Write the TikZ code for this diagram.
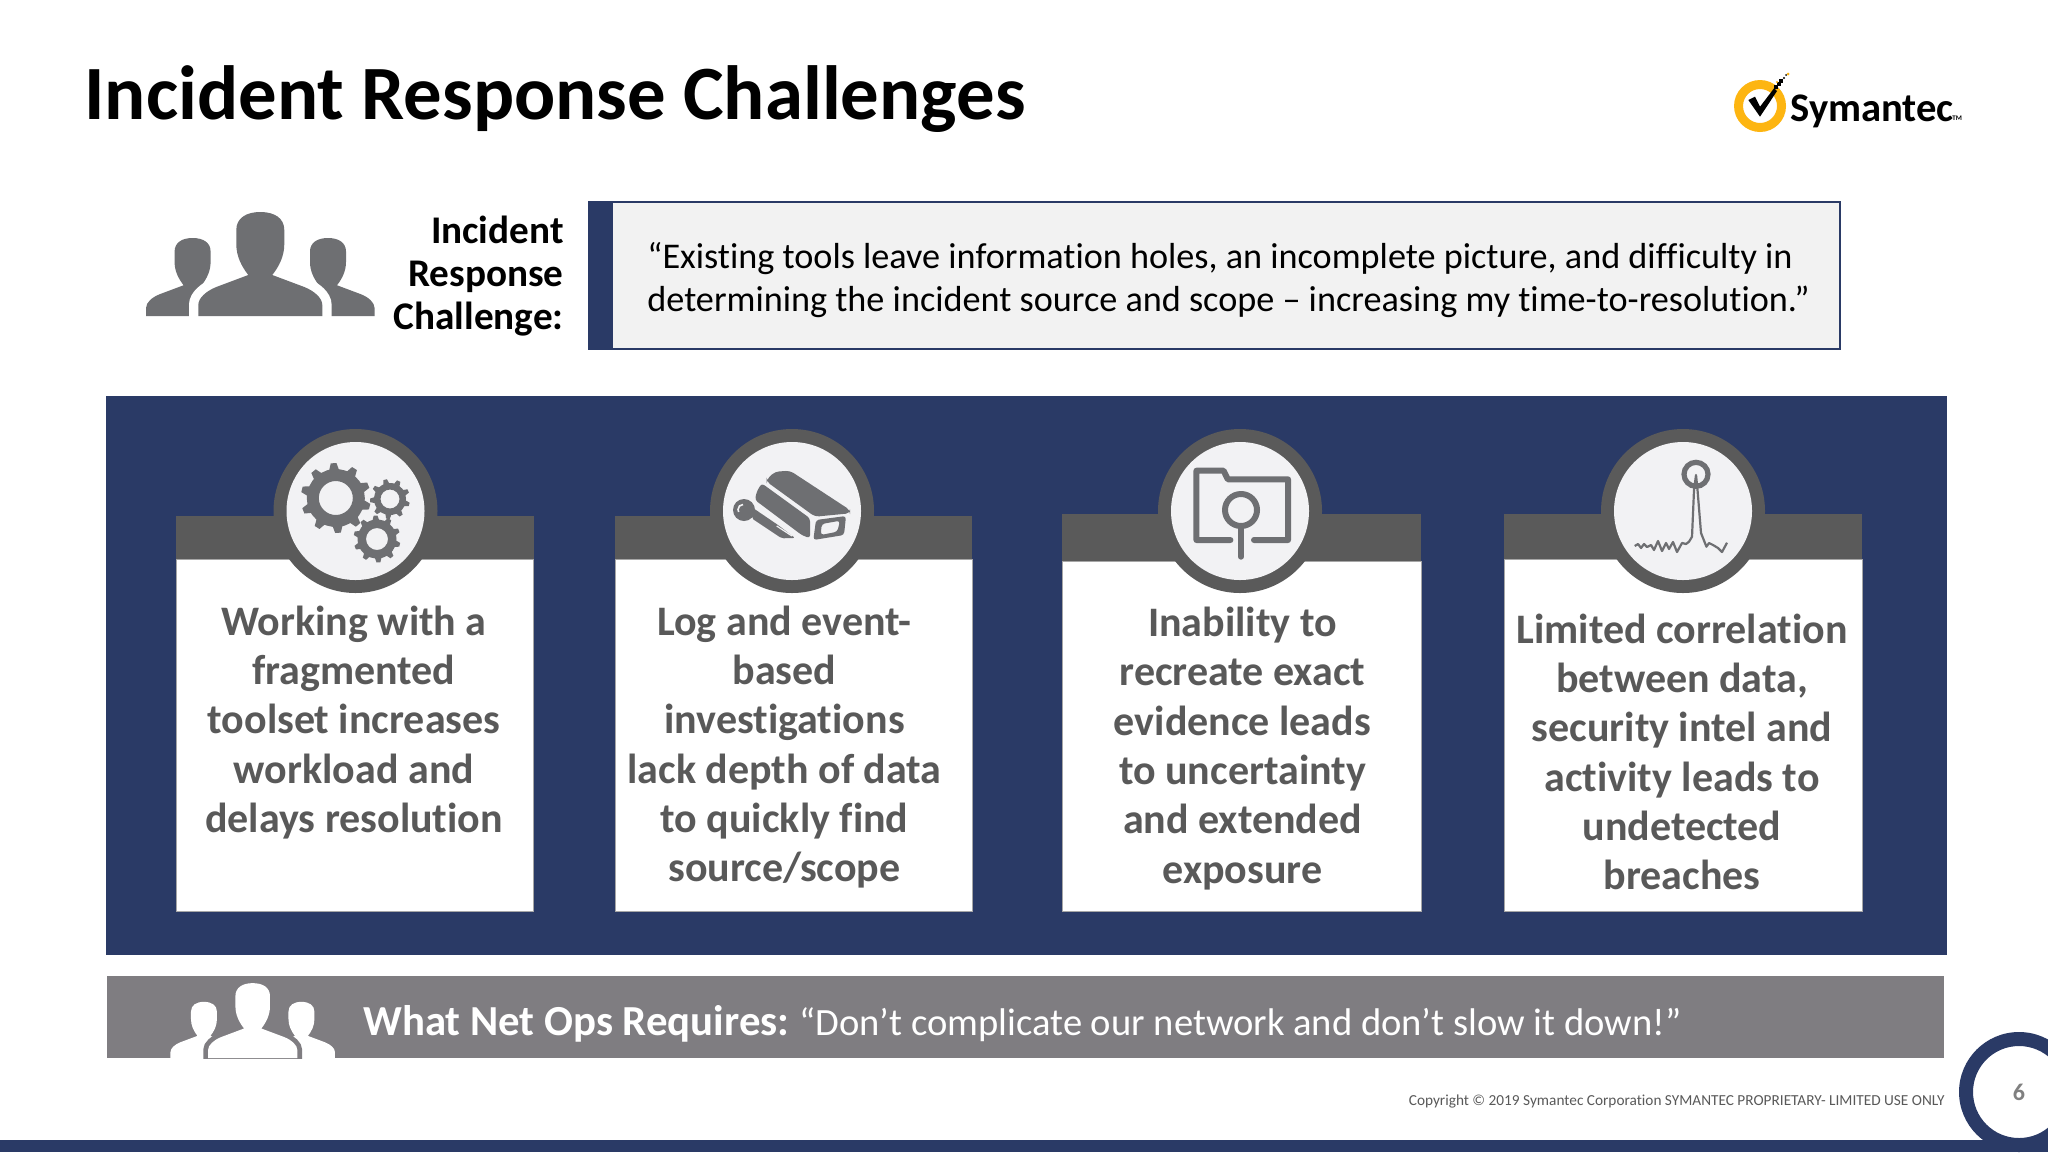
\documentclass[tikz,border=0pt]{standalone}
\usepackage{fontspec}
\setmainfont{Carlito}[Ligatures=CommonOff]
\definecolor{navy}{HTML}{2A3A66}
\definecolor{bandgray}{HTML}{7F7D81}
\definecolor{headgray}{HTML}{5A5A5A}
\definecolor{icongray}{HTML}{6E6F72}
\definecolor{disc}{HTML}{F2F2F4}
\definecolor{quotefill}{HTML}{F2F2F2}
\definecolor{cardtext}{HTML}{595959}
\definecolor{logoyellow}{HTML}{FDB511}
\tikzset{
  cardtextstyle/.style={inner sep=0pt,anchor=center,align=center,text=cardtext,font=\fontsize{21.0}{24.65}\selectfont\bfseries},
  iconline/.style={draw=icongray,line width=3pt,line cap=round,line join=round},
}
% person silhouette, local px units
\newcommand{\personpath}{(-62,0) -- (-62,-11) .. controls (-62,-18) and (-54,-25) .. (-44,-29) -- (-12,-41) .. controls (-19,-50) and (-24,-60) .. (-24,-72) -- (-24,-86) .. controls (-24,-98) and (-14,-104) .. (0,-104) .. controls (14,-104) and (24,-98) .. (24,-86) -- (24,-72) .. controls (24,-60) and (19,-50) .. (12,-41) -- (44,-29) .. controls (54,-25) and (62,-18) .. (62,-11) -- (62,0) -- cycle}
% #1 x, #2 bottom y, #3 scale, #4 fill, #5 gap colour, #6 gap width
\newcommand{\peoplegroup}[6]{%
  \begin{scope}
    \clip (#1-150,#2-120) rectangle (#1+150,#2);
    \begin{scope}[shift={(#1,#2)},scale=#3]
      \begin{scope}[shift={(-67.7,0)},scale=.75]\fill[#4] \personpath;\end{scope}
      \begin{scope}[shift={(67.7,0)},scale=.75]\fill[#4] \personpath;\end{scope}
      \draw[#5,line width=#6] \personpath;
      \fill[#4] \personpath;
    \end{scope}
  \end{scope}}
% #1 x, #2 y, #3 ro, #4 ri, #5 teeth, #6 hole
\newcommand{\gearicon}[6]{%
  \begin{scope}[shift={(#1,#2)}]
    \pgfmathsetmacro{\gstep}{360/#5}
    \fill[icongray,even odd rule] (0:#4)
      \foreach \k in {1,...,#5} {
        -- ({(\k-1)*\gstep+0.14*\gstep}:#4)
        -- ({(\k-1)*\gstep+0.27*\gstep}:#3)
        -- ({(\k-1)*\gstep+0.53*\gstep}:#3)
        -- ({(\k-1)*\gstep+0.66*\gstep}:#4)
        -- ({\k*\gstep}:#4)
      } -- cycle (0,0) circle (#6);
  \end{scope}}
% #1 left, #2 right, #3 bar top, #4 bar bottom, #5 disc x
\newcommand{\cardshape}[5]{%
  \fill[white,draw=black!35,line width=.5pt] (#1,#4) rectangle (#2,911);
  \fill[headgray] (#1,#3) rectangle (#2,#4);
  \fill[headgray] (#5,511) circle (82);
  \fill[disc] (#5,511) circle (69);}
\begin{document}
\begin{tikzpicture}[x=0.5pt,y=-0.5pt]
\useasboundingbox (0,0) rectangle (2048,1152);
\fill[white] (0,0) rectangle (2048,1152);

% title
\node[anchor=base west,inner sep=0pt,font=\fontsize{38.4}{42}\selectfont\bfseries] (title) at (84,119) {Incident Response Challenges};

% logo
\fill[logoyellow,even odd rule] (1760,106) circle (26) (1760,106) circle (17);
\fill[black] (1748.3,100) -- (1755,96.7) -- (1760,106.7) -- (1774,88.3) -- (1777,91) -- (1760,116.7) -- cycle;
\foreach \px/\py in {1776/87,1779/84,1781/81} \fill[black] (\px-1.8,\py-1.8) rectangle (\px+1.8,\py+1.8);
\fill[black] (1784,78) circle (1.2) (1786,75) circle (1);
\fill[logoyellow] (1777,82) circle (1.2) (1788,74) circle (1.5);
\node[anchor=base west,inner sep=0pt,font=\fontsize{20.3}{22}\selectfont\bfseries] (logotext) at (1790,121) {Symantec};
\node[anchor=base west,inner sep=0pt,font=\fontsize{3.5}{4}\selectfont\bfseries] (logotm) at (1952,120) {TM};

% challenge row
\peoplegroup{260.3}{316}{1}{icongray}{white}{9.3pt}
\node[anchor=east,inner sep=0pt,align=right,font=\fontsize{19.6}{21.5}\selectfont\bfseries] (challenge) at (564,276) {Incident\\Response\\Challenge:};
\fill[quotefill,draw=navy,line width=1pt] (589,202) rectangle (1840,349);
\fill[navy] (589,202) rectangle (612.5,349);
\node[anchor=west,inner sep=0pt,align=left,font=\fontsize{18.1}{21.5}\selectfont] (quote) at (647,280) {“Existing tools leave information holes, an incomplete picture, and difficulty in\\determining the incident source and scope – increasing my time-to-resolution.”};

% navy panel
\fill[navy] (106,396) rectangle (1947,955);

% cards
\cardshape{176}{533.5}{515.5}{559}{355.5}
\cardshape{615}{972}{515.5}{559}{792}
\cardshape{1062}{1421}{514}{561}{1240}
\cardshape{1504}{1862}{514}{559}{1683}

% icon 1: gears
\gearicon{335.8}{498}{35}{29}{10}{17}
\gearicon{390}{499}{20}{16}{9}{9.5}
\gearicon{377}{539}{23.5}{19.5}{10}{11}

% icon 2: camera
\fill[icongray,rounded corners=2pt] (766.7,479.3) -- (775,471.7) -- (790,470.7) -- (850,510) -- (850,513.3) -- (815,516.7) -- (766.7,481.7) -- cycle;
\fill[icongray,rounded corners=1.5pt] (761.7,483.3) -- (810,518.3) -- (810,538.3) -- (801.7,535) -- (755,500) -- (756.7,491.7) -- cycle;
\fill[icongray,rounded corners=1.5pt,even odd rule] (816,520) -- (846,516) -- (844,535) -- (813.3,540) -- cycle
  (821.7,524) -- (840,520.7) -- (837.3,531.7) -- (820.7,535) -- cycle;
\fill[icongray,rounded corners=1pt] (753,508) -- (778,525) -- (795,538) -- (781.7,538.3) -- (751.7,518.3) -- cycle;
\fill[icongray] (744,510) circle (11);
\draw[disc,line width=.8pt] (743,504.5) arc[start angle=270,end angle=150,radius=5];
\draw[disc,line width=.6pt] (776.7,526) -- (792,536);

% icon 3: folder with lens
\draw[iconline] (1230.4,540) -- (1196.4,540) -- (1196.4,470.7) -- (1223.6,470.7) -- (1227.8,479.3) -- (1288,479.3) -- (1288,540) -- (1254,540);
\draw[iconline] (1241,510) circle (16);
\draw[iconline] (1241,527) -- (1241,556.7);

% icon 4: antenna signal
\draw[icongray,line width=2.6pt] (1696,474.3) circle (12);
\draw[icongray,line width=1.1pt,line join=round] (1634.7,546) -- (1638,544) -- (1641,548) -- (1644,544) -- (1647,547) -- (1651,545) -- (1654,550) -- (1658,541) -- (1662,551) -- (1666,543) -- (1669,549) -- (1673,542) -- (1677,552) -- (1682,543) -- (1686,544) -- (1689,541.7) -- (1692,536.7) -- (1694,490) -- (1696,475) -- (1697.5,490) -- (1701,533) -- (1706.4,546.7) -- (1709,543) -- (1713,545) -- (1718,548) -- (1722,552) -- (1727,542.7);

% card texts
\node[cardtextstyle] (t1) at (354,722.5) {Working with a\\fragmented\\toolset increases\\workload and\\delays resolution};
\node[cardtextstyle] (t2) at (784.5,747) {Log and event-\\based\\investigations\\lack depth of data\\to quickly find\\source/scope};
\node[cardtextstyle] (t3) at (1242.5,748.5) {Inability to\\recreate exact\\evidence leads\\to uncertainty\\and extended\\exposure};
\node[cardtextstyle] (t4) at (1682,752) {Limited correlation\\between data,\\security intel and\\activity leads to\\undetected\\breaches};

% net ops band
\fill[bandgray] (107,976) rectangle (1944,1058);
\peoplegroup{252.7}{1058}{.72}{white}{bandgray}{4.8pt}
\node[anchor=west,inner sep=0pt,text=white] (netops) at (363,1023.5) {\fontsize{21.4}{24}\selectfont\textbf{What Net Ops Requires:}\hspace{5pt}\fontsize{19.3}{24}\selectfont “Don’t complicate our network and don’t slow it down!”};

% footer
\node[anchor=east,inner sep=0pt,text=cardtext,font=\fontsize{7.65}{10}\selectfont] (copyright) at (1945,1101) {Copyright © 2019 Symantec Corporation SYMANTEC PROPRIETARY- LIMITED USE ONLY};
\fill[navy,even odd rule] (2019,1092) circle (60) (2019,1092) circle (46);
\fill[navy] (0,1140) rectangle (2048,1152);
\node[inner sep=0pt,text=black!50,font=\fontsize{12}{14}\selectfont\bfseries] (pagenum) at (2019,1092) {6};
\end{tikzpicture}
\end{document}
